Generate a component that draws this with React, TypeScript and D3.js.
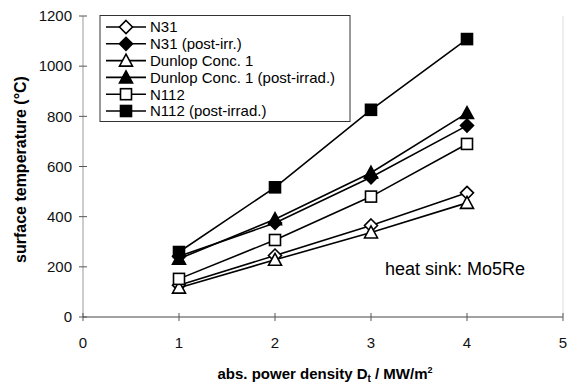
import * as d3 from "d3"

const xTicks = [0, 1, 2, 3, 4, 5]
const yTicks = [0, 200, 400, 600, 800, 1000, 1200]
const powerDensity = [1, 2, 3, 4]

const seriesNames = ["N31", "N31 (post-irr.)", "Dunlop Conc. 1", "Dunlop Conc. 1 (post-irrad.)", "N112", "N112 (post-irrad.)"]
const seriesMarkers = ["diamond", "diamond", "triangle", "triangle", "square", "square"]
const seriesFilled = [false, true, false, true, false, true]
const n31 = [127, 245, 365, 495]
const n31Post = [242, 375, 557, 763]
const dunlop = [117, 228, 337, 455]
const dunlopPost = [232, 390, 575, 813]
const n112 = [152, 307, 480, 690]
const n112Post = [259, 517, 826, 1108]
const seriesValues = [n31, n31Post, dunlop, dunlopPost, n112, n112Post]

const font = "Arial, 'Liberation Sans', sans-serif"

function Marker({ kind, filled, cx, cy }: { kind: string; filled: boolean; cx: number; cy: number }) {
  const fill = filled ? "#000" : "#fff"
  const sw = 1.6
  if (kind === "square") return <rect x={cx - 5.5} y={cy - 5.5} width={11} height={11} fill={fill} stroke="#000" strokeWidth={sw} />
  if (kind === "triangle") return <path d={`M${cx},${cy - 6.5}L${cx + 6.5},${cy + 5.5}L${cx - 6.5},${cy + 5.5}Z`} fill={fill} stroke="#000" strokeWidth={sw} />
  return <path d={`M${cx},${cy - 6.5}L${cx + 6.5},${cy}L${cx},${cy + 6.5}L${cx - 6.5},${cy}Z`} fill={fill} stroke="#000" strokeWidth={sw} />
}

export default function App() {
  const W = 567, H = 386
  const x = d3.scaleLinear().domain([0, 5]).range([83, 563])
  const y = d3.scaleLinear().domain([0, 1200]).range([317, 16])
  const line = d3.line<number>().x((_, i) => x(powerDensity[i])).y(v => y(v))

  return (
    <svg width={W} height={H} style={{ position: "absolute", left: 0, top: 0, background: "#fff" }} fontFamily={font}>
      {/* axes */}
      <line x1={x(0)} x2={x(0)} y1={y(0)} y2={y(1200)} stroke="#999" strokeWidth={1} />
      <line x1={x(0)} x2={x(5)} y1={y(0)} y2={y(0)} stroke="#444" strokeWidth={1} />
      <line x1={x(5)} x2={x(5)} y1={y(0)} y2={y(1200)} stroke="#ddd" strokeWidth={1} />
      {yTicks.map(t => (
        <g key={t}>
          <line x1={x(0) - 4} x2={x(0) + 4} y1={y(t)} y2={y(t)} stroke="#555" />
          <text x={72} y={y(t)} dy="0.35em" textAnchor="end" fontSize={15} fill="#111">{t}</text>
        </g>
      ))}
      {xTicks.map(t => (
        <g key={t}>
          <line x1={x(t)} x2={x(t)} y1={y(0) - 4} y2={y(0) + 4} stroke="#555" />
          <text x={x(t)} y={343} dy="0.35em" textAnchor="middle" fontSize={15} fill="#111">{t}</text>
        </g>
      ))}
      <text transform={`translate(26,${(y(0) + y(1200)) / 2 + 3}) rotate(-90)`} textAnchor="middle" fontSize={16} fontWeight="bold">surface temperature (°C)</text>
      <text x={325} y={379} textAnchor="middle" fontSize={15} fontWeight="bold">
        abs. power density D<tspan fontSize={10} dy={3}>t</tspan><tspan dy={-3}> / MW/m</tspan><tspan fontSize={9} dy={-6}>2</tspan>
      </text>

      {/* series */}
      {seriesValues.map((vals, s) => (
        <g key={s}>
          <path d={line(vals) ?? ""} fill="none" stroke="#000" strokeWidth={1.6} />
          {vals.map((v, i) => <Marker key={i} kind={seriesMarkers[s]} filled={seriesFilled[s]} cx={x(powerDensity[i])} cy={y(v)} />)}
        </g>
      ))}

      <text x={385} y={275} fontSize={18} fill="#000">heat sink: Mo5Re</text>

      {/* legend */}
      <rect x={100} y={15.5} width={250} height={106} fill="#fff" stroke="#333" strokeWidth={1} />
      {seriesNames.map((n, i) => {
        const ly = 27 + i * 16.8
        return (
          <g key={n}>
            <line x1={106} x2={146} y1={ly} y2={ly} stroke="#000" strokeWidth={1.6} />
            <Marker kind={seriesMarkers[i]} filled={seriesFilled[i]} cx={126} cy={ly} />
            <text x={150} y={ly} dy="0.36em" fontSize={15} fill="#000">{n}</text>
          </g>
        )
      })}
    </svg>
  )
}
